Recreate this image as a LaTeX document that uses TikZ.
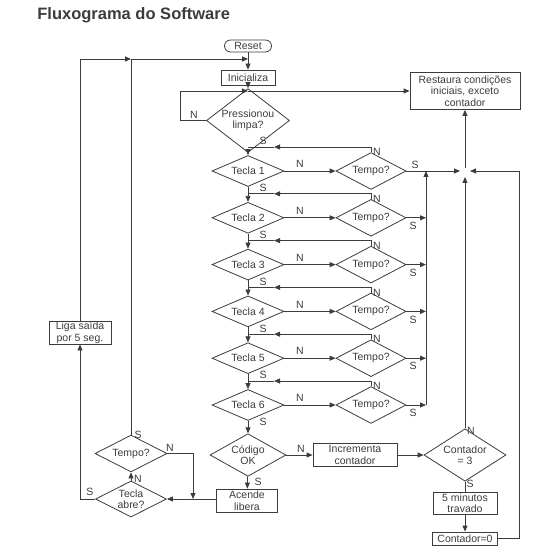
\documentclass[tikz,border=0pt]{standalone}
\usepackage{fontspec}
\setmainfont{Liberation Sans}
\usepackage{xcolor}
\usetikzlibrary{shapes.geometric}
\usetikzlibrary{positioning}
\usetikzlibrary{arrows.meta}
\definecolor{ink}{HTML}{3C3C3C}
\tikzset{flow/.style={x=1pt, y=-1pt, font=\fontsize{10.5}{11.5}\selectfont, color=ink,
line width=0.8pt, >={Triangle[length=6pt,width=5pt]}},
procbox/.style={draw, align=center, inner sep=0pt},
decis/.style={draw, diamond, align=center, inner xsep=0pt, inner ysep=-5pt,
minimum width=72pt, minimum height=30pt},
lbl/.style={inner sep=0pt}}

\begin{document}
\begin{tikzpicture}[flow]
\useasboundingbox (0,0) rectangle (534,553);

\node[lbl, anchor=base west, font=\fontsize{16.5}{18}\selectfont\bfseries] (title) at (37,20) {Fluxograma do Software};

% coluna principal
\node[procbox, rounded corners=6pt, minimum width=47pt, minimum height=12pt] (reset) at (248,46) {Reset};
\node[procbox, minimum width=54pt, minimum height=15pt] (inic) at (248,77.5) {Inicializa};
\node[decis, minimum width=83pt, minimum height=35pt] (press) at (248,120.5) {Pressionou\\limpa?};
\node[procbox, minimum width=110pt, minimum height=37pt] (rest) at (465,91) {Restaura condições\\iniciais, exceto\\contador};

\coordinate (merge) at (465,171);
\coordinate (vtop) at (426,171);
\coordinate (rc) at (519,171);
\coordinate (pl) at (180,91);
\coordinate (jl) at (131,59);

\foreach \i in {1,...,6}{
	\pgfmathsetmacro\yy{171+46.8*(\i-1)}
	\node[decis] (tecla\i) at (248,\yy) {Tecla \i};
	\node[decis, minimum width=70pt] (tempo\i) at (371,\yy) {Tempo?};
	\coordinate (fb\i) at (274,\yy-24);
	\draw[->] (tecla\i.east) -- (tempo\i.west);
	\draw[->] (tempo\i.north) |- (fb\i);
	\draw (fb\i) -- (tecla\i.north |- fb\i);
	\node[lbl] (tn\i) at (300,\yy-7) {N};
	\node[lbl] (mn\i) at (377,\yy-19) {N};
	\node[lbl] (ts\i) at (263,\yy+17) {S};
	\ifnum\i=1
		\draw[->, shorten >=5pt] (tempo\i.east) -- (merge);
		\node[lbl] (ms\i) at (415,\yy-6) {S};
	\else
		\draw[->] (tempo\i.east) -- (vtop |- tempo\i.east);
		\node[lbl] (ms\i) at (413,\yy+8) {S};
	\fi
}
\foreach \i/\j in {1/2,2/3,3/4,4/5,5/6}
	\draw[->] (tecla\i) -- (tecla\j);
\draw[->] (tempo6.east -| vtop) -- (vtop);

\node[decis, minimum width=76pt, minimum height=34pt] (codigo) at (248,455) {Código\\OK};
\node[procbox, minimum width=84pt, minimum height=23pt] (incr) at (355,455) {Incrementa\\contador};
\node[decis, minimum width=82pt, minimum height=35pt] (cont3) at (465,455) {Contador\\= 3};
\node[procbox, minimum width=64pt, minimum height=22pt] (min5) at (465,503) {5 minutos\\travado};
\node[procbox, minimum width=65pt, minimum height=13pt] (cont0) at (465,538.5) {Contador=0};
\node[procbox, minimum width=61pt, minimum height=23pt] (acende) at (247,500.5) {Acende\\libera};
\node[decis, minimum height=29pt] (tempoL) at (131,453.5) {Tempo?};
\node[decis, minimum width=71pt, minimum height=29pt] (abre) at (131,499) {Tecla\\abre?};
\node[procbox, minimum width=62pt, minimum height=23pt] (liga) at (80,332.5) {Liga saída\\por 5 seg.};
\coordinate (tj) at (193,499);

% ligacoes
\draw[->] (reset) -- (inic);
\draw[->] (inic) -- (press);
\draw (press.west) -| (pl);
\draw[->] (pl) -- (inic |- pl);
\draw[->] (inic |- pl) -- (rest.west |- pl);
\draw[->] (press) -- (tecla1);
\draw[->] (tecla6) -- (codigo);
\draw[->] (codigo) -- (acende);
\draw[->] (codigo) -- (incr);
\draw[->] (incr) -- (cont3);
\draw (cont3) -- (min5);
\draw[->] (min5) -- (cont0);
\draw[->, shorten >=5pt] (cont0.east) -| (rc) -- (merge);
\draw[->, shorten >=6pt] (cont3.north) -- (merge);
\draw[->, shorten <=3pt] (merge) -- (rest.south);
\draw[->] (acende.west |- abre) -- (abre.east);
\draw[->] (abre) -- (tempoL);
\draw[->] (tempoL.east) -| (tj);
\draw[->] (abre.west) -| (liga.south);
\draw[->] (liga.north) |- (jl);
\draw (tempoL.north) -- (jl);
\draw[->] (jl) -- (inic |- jl);

\node[lbl] (pn) at (194,115) {N};
\node[lbl] (ps) at (263,141) {S};
\node[lbl] (cs) at (258,482) {S};
\node[lbl] (cn) at (301,449) {N};
\node[lbl] (c3n) at (471,431) {N};
\node[lbl] (c3s) at (470,484) {S};
\node[lbl] (lts) at (138,435) {S};
\node[lbl] (ltn) at (170,448) {N};
\node[lbl] (abn) at (138,479) {N};
\node[lbl] (abs) at (90,492) {S};
\end{tikzpicture}
\end{document}
